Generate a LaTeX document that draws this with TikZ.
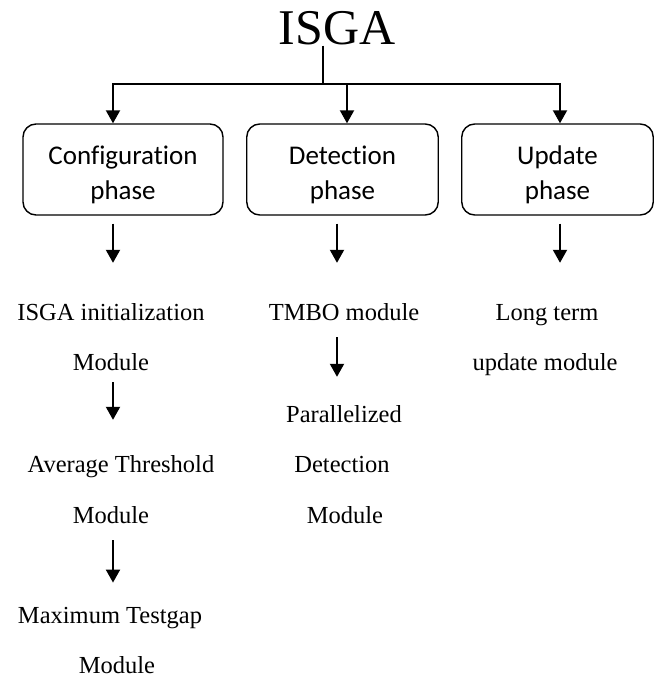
\documentclass[tikz,border=0pt]{standalone}
\usepackage{fontspec}
\usepackage{tikz}
\usetikzlibrary{arrows.meta}
\newfontfamily\timesfont{Liberation Serif}
\newfontfamily\calibrifont[Ligatures=NoCommon]{Carlito}
\newcommand\boxstrut{\rule{0pt}{29pt}}

\begin{document}
\begin{tikzpicture}[x=1pt,y=-1pt,
        phasebox/.style={draw,rounded corners=13pt,line width=1.4pt,minimum height=91pt,inner sep=0pt,align=center,font=\calibrifont\fontsize{27}{35}\selectfont},
        modtext/.style={anchor=base,inner sep=0pt,font=\timesfont\fontsize{24.5}{29}\selectfont},
        arr/.style={-{Triangle[length=13pt,width=14pt]},line width=2pt}]
        \useasboundingbox(0,0)rectangle(657,677);
        \node[anchor=base,inner sep=0pt,font=\timesfont\fontsize{50}{60}\selectfont](isga)at(337,45){ISGA};
        \coordinate(split)at(323,84);
        \coordinate(c1)at(113,0);
        \coordinate(c2)at(337,0);
        \coordinate(t2)at(347,0);
        \coordinate(c3)at(560,0);
        \node[phasebox,minimum width=200pt](config)at(123,169.5){\boxstrut Configuration\\phase};
        \node[phasebox,minimum width=191.5pt](detect)at(342.5,169.5){\boxstrut Detection\\phase};
        \node[phasebox,minimum width=191.5pt](update)at(557.5,169.5){\boxstrut Update\\phase};
        \draw[line width=2pt](isga.south-|split)--(split);
        \draw[arr](split)-|(config.north-|c1);
        \draw[arr](split)-|(detect.north-|t2);
        \draw[arr](split)-|(update.north-|c3);
        \node[modtext](init)at(111,320){ISGA initialization};
        \node[modtext](initmod)at(111,370){Module};
        \node[modtext](avg)at(121,472){Average Threshold};
        \node[modtext](avgmod)at(111,523){Module};
        \node[modtext](maxgap)at(110,623){Maximum Testgap};
        \node[modtext](maxmod)at(117,673){Module};
        \node[modtext](tmbo)at(344,320){TMBO module};
        \node[modtext](para)at(344,422){Parallelized};
        \node[modtext](paradet)at(342,472){Detection};
        \node[modtext](paramod)at(345,523){Module};
        \node[modtext](longterm)at(547,320){Long term};
        \node[modtext](longmod)at(545,370){update module};
        \draw[arr,shorten <=8pt,shorten >=40pt](config.south-|c1)--(init.north-|c1);
        \draw[arr,shorten <=12pt,shorten >=35pt](initmod.south-|c1)--(avg.north-|c1);
        \draw[arr,shorten <=17pt,shorten >=24pt](avgmod.south-|c1)--(maxgap.north-|c1);
        \draw[arr,shorten <=8pt,shorten >=40pt](detect.south-|c2)--(tmbo.north-|c2);
        \draw[arr,shorten <=17pt,shorten >=28pt](tmbo.south-|c2)--(para.north-|c2);
        \draw[arr,shorten <=8pt,shorten >=41pt](update.south-|c3)--(longterm.north-|c3);
    \end{tikzpicture}
\end{document}
